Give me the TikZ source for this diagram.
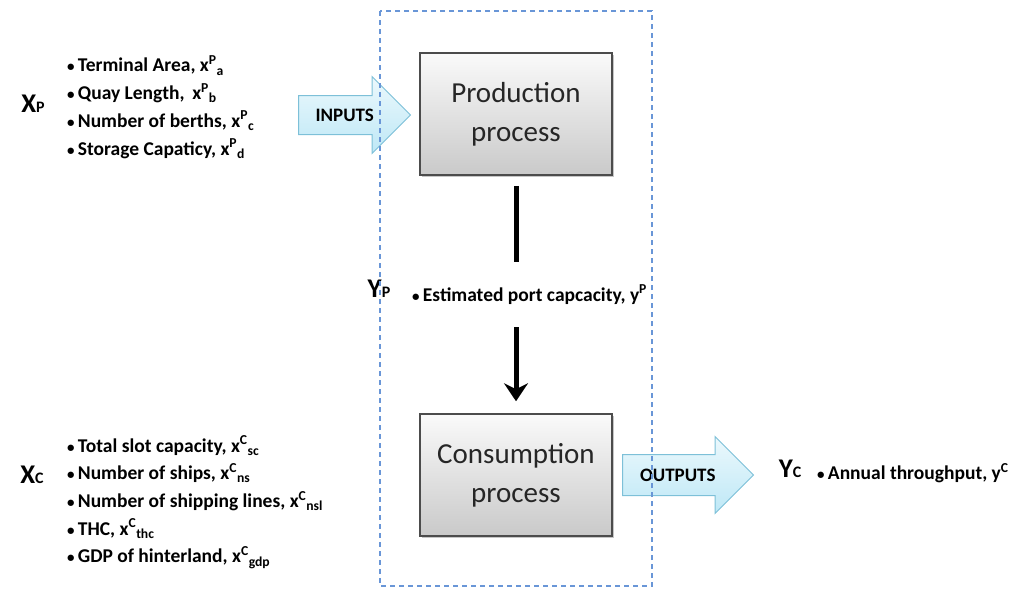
\documentclass[tikz,border=0pt]{standalone}
\usepackage{fontspec}
\setmainfont{Carlito}
\usetikzlibrary{shapes.arrows,shadows,arrows.meta,positioning}

\definecolor{framecol}{RGB}{105,150,215}
\definecolor{arrowfill}{RGB}{190,232,246}
\definecolor{arrowdraw}{RGB}{125,192,216}

\newcommand{\itm}{{\fontsize{15}{15}\selectfont•}\,}

\begin{document}
\begin{tikzpicture}[x=1pt,y=-1pt,
                    procbox/.style={rectangle,draw=black!70,line width=1.5pt,
                        top color=gray!4,bottom color=gray!42,
                        minimum width=192pt,minimum height=122pt,
                        align=center,text=black!85,
                        font=\fontsize{29}{39}\selectfont,
                        drop shadow={shadow xshift=1.5pt,shadow yshift=-1.5pt,opacity=0.45}},
                    flow/.style={single arrow,draw=arrowdraw,line width=1pt,
                        top color=arrowfill!30,bottom color=arrowfill,
                        shape border rotate=0,
                        text height=12pt,text depth=0pt,inner xsep=3pt,
                        font=\bfseries\fontsize{19}{19}\selectfont},
                    itemlist/.style={align=left,inner sep=0pt,anchor=west,
                        font=\bfseries\fontsize{19.5}{27.7}\selectfont},
                    grouplab/.style={inner sep=0pt,
                        font=\bfseries\fontsize{27}{27}\selectfont},
                    link/.style={line width=5pt},
                    frame/.style={draw=framecol,line width=1.5pt,
                        dash pattern=on 5pt off 4pt}]
    \useasboundingbox (0,0) rectangle (1035,589);

    % process boxes
    \node[procbox] (prod) at (516,114) {Production\\process};
    \node[procbox] (cons) at (516,475) {Consumption\\process};

    % inputs and outputs
    \node[flow,anchor=tail,minimum height=112pt,inner ysep=13pt,
          single arrow head extend=19pt] (inputs) at (298,115) {INPUTS};
    \node[flow,anchor=tail,minimum height=131pt,inner ysep=14pt,
          single arrow head extend=18pt] (outputs) at (622,475) {OUTPUTS};

    % production variables
    \node[grouplab] (xp) at (33,104) {X{\fontsize{16}{16}\selectfont P}};
    \node[itemlist] (plist) at (67,107) {%
        \itm Terminal Area, x\textsuperscript{P}\textsubscript{a}\\
        \itm Quay Length,\, x\textsuperscript{P}\textsubscript{b}\\
        \itm Number of berths, x\textsuperscript{P}\textsubscript{c}\\
        \itm Storage Capaticy, x\textsuperscript{P}\textsubscript{d}};

    % consumption variables
    \node[grouplab] (xc) at (32,475) {X{\fontsize{16}{16}\selectfont C}};
    \node[itemlist] (clist) at (67,502) {%
        \itm Total slot capacity, x\textsuperscript{C}\textsubscript{sc}\\
        \itm Number of ships, x\textsuperscript{C}\textsubscript{ns}\\
        \itm Number of shipping lines, x\textsuperscript{C}\textsubscript{nsl}\\
        \itm THC, x\textsuperscript{C}\textsubscript{thc}\\
        \itm GDP of hinterland, x\textsuperscript{C}\textsubscript{gdp}};

    % intermediate output
    \node[grouplab] (yp) at (379,289) {Y{\fontsize{16}{16}\selectfont P}};
    \node[itemlist,minimum height=65pt] (estim) at (412,294.5)
        {\itm Estimated port capcacity, y\textsuperscript{P}};

    % final output
    \node[grouplab] (yc) at (790,469) {Y{\fontsize{16}{16}\selectfont C}};
    \node[itemlist] (annual) at (817,473) {\itm Annual throughput, y\textsuperscript{C}};

    % flow between the processes
    \draw[link,shorten <=10pt] (prod.south) -- (prod.south |- estim.north);
    \draw[link,-{Stealth[length=18pt,width=24pt,inset=6pt]},shorten >=12pt]
        (cons.north |- estim.south) -- (cons.north);

    % firm boundary
    \draw[frame] (380,11) rectangle (652,586);
\end{tikzpicture}
\end{document}
